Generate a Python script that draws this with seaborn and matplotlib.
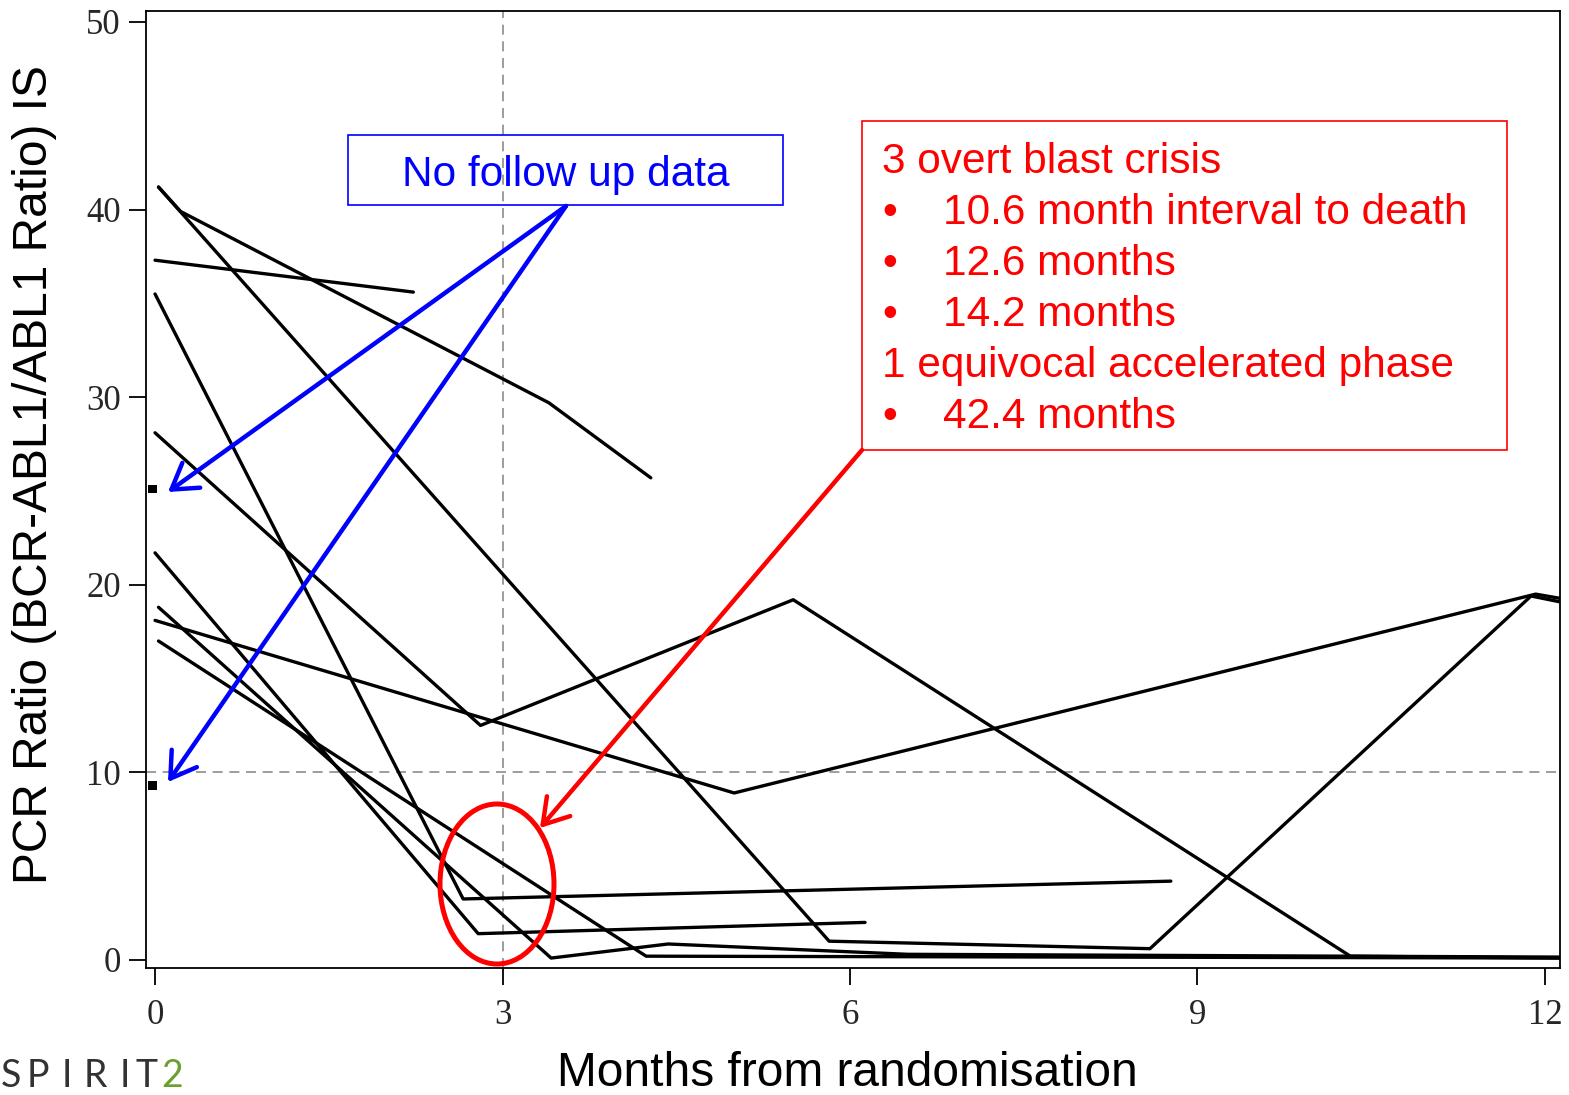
import matplotlib
matplotlib.use('Agg')
import matplotlib.pyplot as plt
import seaborn as sns
import pandas as pd
from matplotlib.patches import Rectangle, Ellipse

# PCR ratio per patient over time (one list per patient)
subject_months = [
    [0.0, 2.23],
    [0.03, 0.22, 3.40, 4.28],
    [0.03, 5.82, 8.59, 11.88, 12.2],
    [0.0, 2.66, 8.77],
    [0.0, 2.81, 5.51, 10.32, 12.2],
    [0.0, 5.0, 11.92, 12.2],
    [0.0, 2.79, 6.13],
    [0.03, 3.42, 4.43, 6.5, 12.2],
    [0.03, 4.24, 12.2],
]
subject_ratio = [
    [37.3, 35.6],
    [41.2, 39.9, 29.7, 25.7],
    [41.2, 1.0, 0.6, 19.4, 19.0],
    [35.5, 3.25, 4.2],
    [28.1, 12.5, 19.2, 0.2, 0.1],
    [18.1, 8.9, 19.5, 19.2],
    [21.7, 1.4, 2.0],
    [18.8, 0.1, 0.85, 0.3, 0.15],
    [17.0, 0.2, 0.1],
]
# baseline only - no follow up data
single_months = [-0.02, -0.02]
single_ratio = [25.1, 9.3]

xticks = [0, 3, 6, 9, 12]
yticks = [0, 10, 20, 30, 40, 50]

red_lines = ['3 overt blast crisis', '10.6 month interval to death', '12.6 months',
             '14.2 months', '1 equivocal accelerated phase', '42.4 months']
red_bullet = [False, True, True, True, False, True]

rows = []
for i, (ms, rs) in enumerate(zip(subject_months, subject_ratio)):
    for m, r in zip(ms, rs):
        rows.append({'pid': i, 'Months': m, 'Ratio': r})
df = pd.DataFrame(rows)

sns.set_theme(style='ticks')
plt.rcParams['font.family'] = ['Liberation Sans', 'DejaVu Sans']

W, H = 1569, 1095
fig = plt.figure(figsize=(W / 100, H / 100), dpi=100)
ax = fig.add_axes([146 / W, 1 - 968 / H, (1560 - 146) / W, (968 - 10.7) / H])

ax.axvline(3, color='#8c8c8c', lw=1.2, ls=(0, (6, 4)), zorder=1)
ax.axhline(10, color='#8c8c8c', lw=1.2, ls=(0, (6, 4)), zorder=1)

sns.lineplot(data=df, x='Months', y='Ratio', units='pid', estimator=None, sort=False,
             color='black', lw=2.4, legend=False, ax=ax, zorder=2)
sns.scatterplot(x=single_months, y=single_ratio, marker='s', s=40, color='black',
                edgecolor='none', ax=ax, zorder=3)

ax.set_xlim(-0.078, 12.13)
ax.set_ylim(-0.43, 50.6)
ax.set_xticks(xticks)
ax.set_xticklabels([str(t) for t in xticks], fontfamily='Liberation Serif', fontsize=25)
ax.set_yticks(yticks)
ax.set_yticklabels([str(t) for t in yticks], fontfamily='Liberation Serif', fontsize=25)
ax.tick_params(axis='both', direction='out', length=12, width=1.3, color='black')
ax.tick_params(axis='x', pad=10)
ax.tick_params(axis='y', pad=6)
for s in ax.spines.values():
    s.set_visible(True)
    s.set_color('black')
    s.set_linewidth(1.3)

ax.set_xlabel('Months from randomisation', fontsize=34.5, color='black')
ax.xaxis.label.set_va('baseline')
ax.xaxis.set_label_coords(0.4958, (968 - 1086) / (968 - 10.7))
ax.set_ylabel('PCR Ratio (BCR-ABL1/ABL1 Ratio) IS', fontsize=34.5, color='black')
ax.yaxis.label.set_va('center')
ax.yaxis.set_label_coords((35 - 146) / 1414, 0.515)

# annotation overlay in pixel coordinates
ov = fig.add_axes([0, 0, 1, 1])
ov.set_xlim(0, W)
ov.set_ylim(H, 0)
ov.axis('off')

blue = '#0000ff'
red = '#ff0000'
ov.add_patch(Rectangle((348, 135), 435, 70, fill=False, ec=blue, lw=1.2))
ov.text(566, 186, 'No follow up data', color=blue, fontsize=30.5, ha='center', va='baseline')
for tip in [(168, 492), (168, 782)]:
    ov.annotate('', xy=tip, xytext=(566, 206),
                arrowprops=dict(arrowstyle='->,head_length=0.8,head_width=0.5',
                                color=blue, lw=3.2, mutation_scale=22, shrinkA=0, shrinkB=0))

ov.add_patch(Rectangle((862, 121), 645, 329, fill=False, ec=red, lw=1.2, zorder=1))
for k, (txt, bul) in enumerate(zip(red_lines, red_bullet)):
    yb = 173 + 51 * k
    if bul:
        ov.text(882, yb, '\u2022', color=red, fontsize=30.5, va='baseline')
        ov.text(943, yb, txt, color=red, fontsize=30.5, va='baseline')
    else:
        ov.text(882, yb, txt, color=red, fontsize=30.5, va='baseline')
ov.annotate('', xy=(540, 828), xytext=(862, 450),
            arrowprops=dict(arrowstyle='->,head_length=0.8,head_width=0.5',
                            color=red, lw=3.2, mutation_scale=22, shrinkA=0, shrinkB=0))
ov.add_patch(Ellipse((497, 884), 114, 160, fill=False, ec=red, lw=3.6))

# logo, letter spaced
logo_chars = ['S', 'P', 'I', 'R', 'I', 'T', '2']
logo_x = [1, 27, 62, 84, 120, 135, 161]
for ch, lx in zip(logo_chars, logo_x):
    ov.text(lx, 1087, ch, color='#6aa02e' if ch == '2' else '#333333',
            fontsize=27, fontfamily='Lato', va='baseline')

fig.savefig('out.png', dpi=100)
